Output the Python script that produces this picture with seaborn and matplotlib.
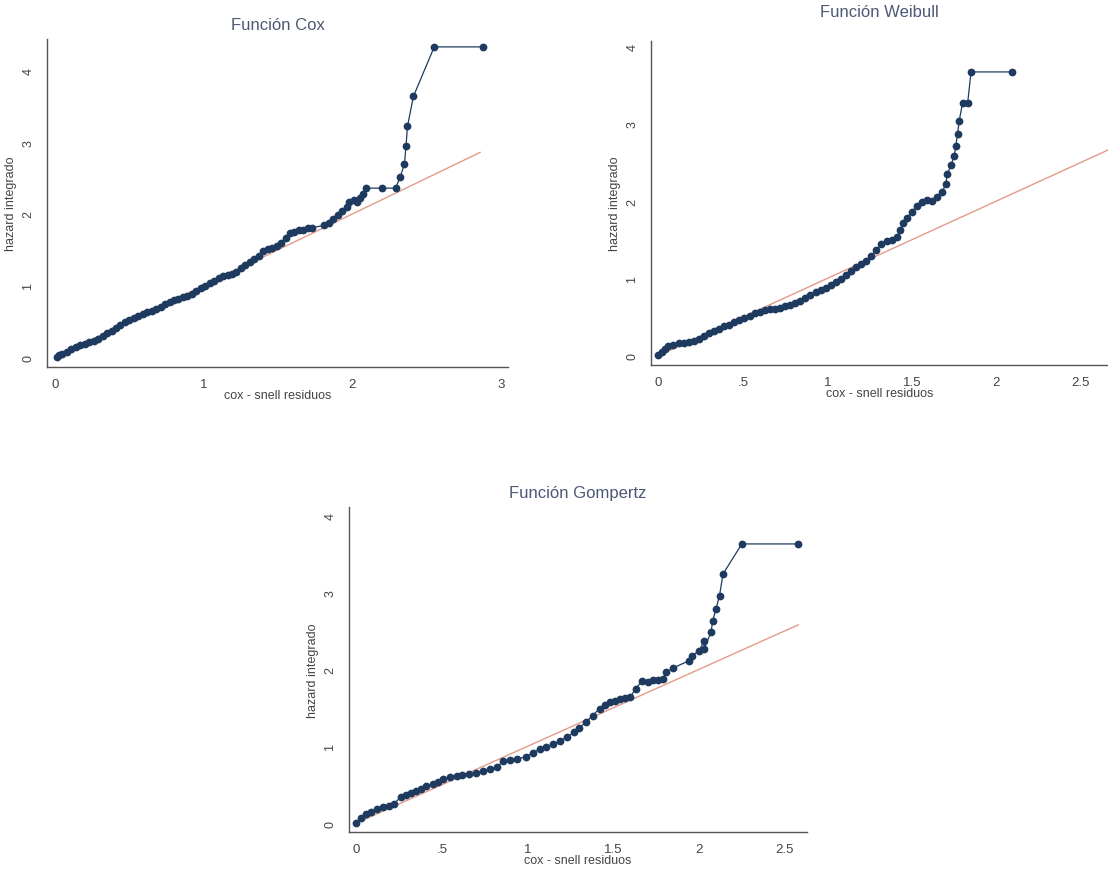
import matplotlib
matplotlib.use("Agg")
from matplotlib import pyplot as plt
import seaborn as sns
import pandas as pd

# --- data ---
cox_x = [0.01, 0.03, 0.05, 0.08, 0.11, 0.14, 0.17, 0.20, 0.23, 0.26, 0.29, 0.32,
         0.35, 0.38, 0.41, 0.44, 0.47, 0.50, 0.53, 0.56, 0.59, 0.62, 0.65, 0.68,
         0.71, 0.74, 0.77, 0.80, 0.83, 0.86, 0.89, 0.92, 0.95, 0.98, 1.01, 1.04,
         1.07, 1.10, 1.13, 1.16, 1.19, 1.22, 1.25, 1.28, 1.31, 1.34, 1.37, 1.40,
         1.43, 1.46, 1.49, 1.52, 1.55, 1.58, 1.61, 1.64, 1.67, 1.70, 1.73, 1.81,
         1.84, 1.87, 1.90, 1.93, 1.96, 1.98, 2.01, 2.03, 2.05, 2.07, 2.09, 2.20,
         2.29, 2.32, 2.35, 2.36, 2.37, 2.41, 2.55, 2.88]
cox_y = [0.01, 0.03, 0.05, 0.08, 0.12, 0.15, 0.17, 0.19, 0.21, 0.23, 0.26, 0.30,
         0.34, 0.37, 0.41, 0.45, 0.49, 0.52, 0.55, 0.58, 0.61, 0.63, 0.65, 0.67,
         0.70, 0.74, 0.77, 0.80, 0.82, 0.84, 0.86, 0.89, 0.92, 0.96, 1.00, 1.03,
         1.07, 1.10, 1.13, 1.15, 1.16, 1.19, 1.24, 1.29, 1.33, 1.37, 1.42, 1.48,
         1.51, 1.53, 1.55, 1.59, 1.67, 1.73, 1.75, 1.77, 1.78, 1.80, 1.81, 1.84,
         1.88, 1.93, 1.99, 2.04, 2.09, 2.17, 2.19, 2.16, 2.22, 2.28, 2.36, 2.36,
         2.36, 2.51, 2.70, 2.95, 3.22, 3.64, 4.33, 4.33]

weib_x = [0.00, 0.02, 0.04, 0.06, 0.09, 0.12, 0.15, 0.18, 0.21, 0.24, 0.27, 0.30,
          0.33, 0.36, 0.39, 0.42, 0.45, 0.48, 0.51, 0.54, 0.57, 0.60, 0.63, 0.66,
          0.69, 0.72, 0.75, 0.78, 0.81, 0.84, 0.87, 0.90, 0.93, 0.96, 0.99, 1.02,
          1.05, 1.08, 1.11, 1.14, 1.17, 1.20, 1.23, 1.26, 1.29, 1.32, 1.35, 1.38,
          1.41, 1.43, 1.45, 1.47, 1.50, 1.53, 1.56, 1.59, 1.62, 1.65, 1.68, 1.70,
          1.71, 1.73, 1.75, 1.76, 1.77, 1.78, 1.80, 1.83, 1.85, 2.09]
weib_y = [0.01, 0.05, 0.09, 0.12, 0.14, 0.16, 0.17, 0.18, 0.19, 0.21, 0.25, 0.29,
          0.32, 0.35, 0.38, 0.40, 0.43, 0.46, 0.49, 0.52, 0.55, 0.57, 0.59, 0.60,
          0.61, 0.62, 0.64, 0.66, 0.68, 0.71, 0.75, 0.78, 0.82, 0.85, 0.88, 0.91,
          0.95, 0.99, 1.04, 1.10, 1.15, 1.19, 1.22, 1.29, 1.37, 1.44, 1.48, 1.50,
          1.53, 1.62, 1.72, 1.78, 1.86, 1.94, 1.99, 2.02, 2.00, 2.05, 2.12, 2.22,
          2.35, 2.46, 2.58, 2.71, 2.87, 3.04, 3.27, 3.27, 3.67, 3.67]

gomp_x = [0.00, 0.03, 0.06, 0.09, 0.12, 0.16, 0.19, 0.22, 0.26, 0.29, 0.32, 0.35,
          0.38, 0.41, 0.45, 0.48, 0.51, 0.55, 0.59, 0.62, 0.66, 0.70, 0.74, 0.78,
          0.82, 0.86, 0.90, 0.94, 0.99, 1.03, 1.07, 1.11, 1.15, 1.19, 1.23, 1.27,
          1.30, 1.34, 1.38, 1.42, 1.45, 1.48, 1.51, 1.54, 1.57, 1.60, 1.63, 1.67,
          1.70, 1.73, 1.76, 1.79, 1.81, 1.85, 1.94, 1.96, 2.00, 2.03, 2.03, 2.07,
          2.08, 2.10, 2.12, 2.14, 2.25, 2.58]
gomp_y = [0.01, 0.07, 0.12, 0.15, 0.18, 0.21, 0.23, 0.25, 0.34, 0.37, 0.39, 0.42,
          0.45, 0.48, 0.51, 0.54, 0.58, 0.60, 0.62, 0.63, 0.64, 0.66, 0.68, 0.70,
          0.73, 0.81, 0.82, 0.84, 0.86, 0.92, 0.96, 0.99, 1.03, 1.07, 1.12, 1.18,
          1.24, 1.31, 1.40, 1.49, 1.54, 1.57, 1.59, 1.62, 1.63, 1.64, 1.75, 1.85,
          1.84, 1.86, 1.86, 1.88, 1.96, 2.02, 2.11, 2.18, 2.24, 2.37, 2.27, 2.48,
          2.63, 2.79, 2.96, 3.24, 3.63, 3.63]

# reference line end points (y = x)
cox_ref = [0, 2.86]
weib_ref = [0, 2.75]
gomp_ref = [0, 2.58]

titles = ["Función Cox", "Función Weibull", "Función Gompertz"]
xticks_cox = [0, 1, 2, 3]
xticks_other = [0, 0.5, 1, 1.5, 2, 2.5]
xtick_labels_other = ["0", ".5", "1", "1.5", "2", "2.5"]
yticks = [0, 1, 2, 3, 4]

sns.set_style("white")
plt.rcParams['font.family'] = ['Liberation Sans', 'DejaVu Sans']

W, H = 1108, 870
fig = plt.figure(figsize=(W / 100, H / 100), dpi=100)


def px_axes(left, right, top, bottom):
    return fig.add_axes([left / W, 1 - bottom / H, (right - left) / W, (bottom - top) / H])


navy = "#1e3b5f"
red = "#e39a8a"

panels = [
    (px_axes(47, 508, 40, 368), cox_x, cox_y, cox_ref, titles[0],
     (-0.054, 3.046), (-0.135, 4.44), xticks_cox, ["0", "1", "2", "3"], 7),
    (px_axes(651, 1108, 42, 366), weib_x, weib_y, weib_ref, titles[1],
     (-0.043, 2.66), (-0.12, 4.07), xticks_other, xtick_labels_other, 18),
    (px_axes(349, 807, 508, 833), gomp_x, gomp_y, gomp_ref, titles[2],
     (-0.041, 2.63), (-0.113, 4.11), xticks_other, xtick_labels_other, 7),
]

for ax, xs, ys, ref, title, xlim, ylim, xt, xtl, tpad in panels:
    df = pd.DataFrame({'x': xs, 'y': ys})
    sns.lineplot(x=ref, y=ref, ax=ax, color=red, linewidth=1.0, zorder=1)
    sns.lineplot(data=df, x='x', y='y', ax=ax, estimator=None, sort=False,
                 color=navy, linewidth=0.9, marker='o', markersize=5.6,
                 markeredgewidth=0, zorder=2)
    ax.set_xlim(*xlim)
    ax.set_ylim(*ylim)
    ax.set_xticks(xt)
    ax.set_xticklabels(xtl)
    ax.set_yticks(yticks)
    ax.set_yticklabels([str(v) for v in yticks])
    for s in ['top', 'right']:
        ax.spines[s].set_visible(False)
    for s in ['left', 'bottom']:
        ax.spines[s].set_color('#555555')
        ax.spines[s].set_linewidth(1.0)
    ax.tick_params(axis='both', direction='out', length=3, width=0.8,
                   color='#555555', labelsize=9.5, labelcolor='#444444', pad=5)
    ax.tick_params(axis='y', labelrotation=90, pad=6, labelsize=9)
    for lbl in ax.get_yticklabels():
        lbl.set_va('center')
    ax.set_xlabel("cox - snell residuos", fontsize=9, color='#444444', labelpad=-1)
    ax.set_ylabel("hazard integrado", fontsize=9, color='#444444', labelpad=4)
    ax.set_title(title, fontsize=12, color='#4d5874', pad=tpad)
    ax.grid(False)

fig.savefig("out.png", dpi=100)
